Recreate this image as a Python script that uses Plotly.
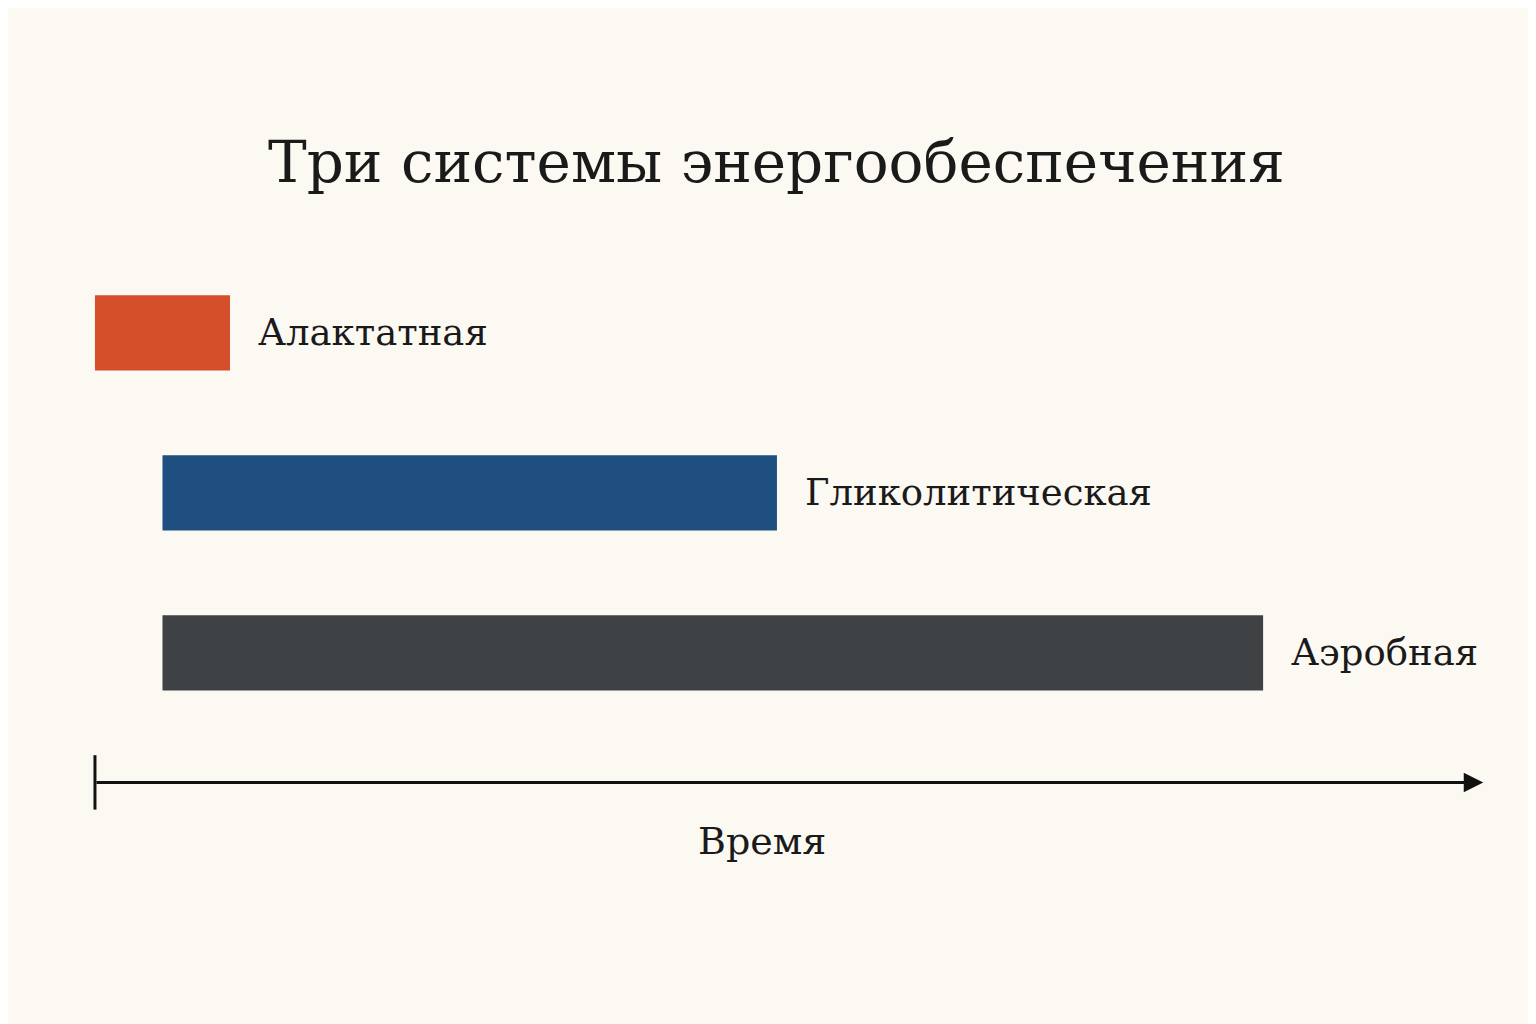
import plotly.graph_objects as go

systems = ["Алактатная", "Гликолитическая", "Аэробная"]
starts = [0.0, 0.5, 0.5]
ends = [1.0, 5.05, 8.65]
colors = ["#D44F2A", "#1F4E80", "#3F4244"]
title = "Три системы энергообеспечения"
axis_label = "Время"

ypos = list(range(len(systems)))
fig = go.Figure()
fig.add_trace(go.Bar(
    y=ypos, x=[e - s for s, e in zip(starts, ends)], base=starts,
    orientation="h", marker=dict(color=colors, line=dict(width=0)),
    width=0.47, hoverinfo="skip"))

font = "DejaVu Serif"
ann = []
for y, e, t in zip(ypos, ends, systems):
    ann.append(dict(x=e, y=y, text=t, xanchor="left", yanchor="middle", xshift=26,
                    showarrow=False, font=dict(family=font, size=37, color="#1a1a1a")))
# time axis arrow
ann.append(dict(x=10.28, y=2.81, ax=0, ay=2.81, axref="x", ayref="y", xref="x", yref="y",
                text="", showarrow=True, arrowhead=2, arrowsize=1.3, arrowwidth=3,
                arrowcolor="#111"))
ann.append(dict(x=4.94, y=3.175, text=axis_label, showarrow=False,
                font=dict(family=font, size=38, color="#1a1a1a")))
ann.append(dict(x=0.5, y=0.885, xref="paper", yref="paper", text=title, showarrow=False,
                font=dict(family=font, size=58, color="#1a1a1a")))

fig.add_shape(type="line", x0=0, x1=0, y0=2.64, y1=2.98, line=dict(color="#111", width=3))

fig.update_layout(
    width=1536, height=1024, margin=dict(l=0, r=0, t=0, b=0),
    paper_bgcolor="#FCF8F2", plot_bgcolor="#FCF8F2", showlegend=False,
    annotations=ann,
    xaxis=dict(range=[-0.644, 10.73], visible=False),
    yaxis=dict(range=[4.37, -2.03], visible=False),
)
fig.write_html("out.html")
